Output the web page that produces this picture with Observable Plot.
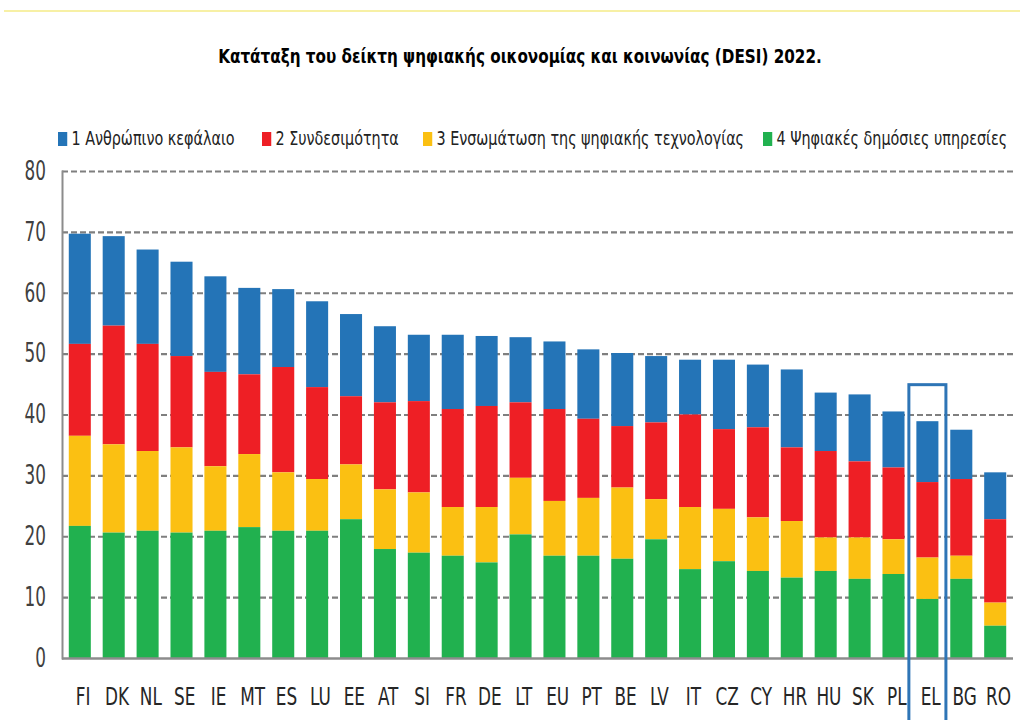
<!DOCTYPE html>
<html><head><meta charset="utf-8">
<script src="https://cdn.jsdelivr.net/npm/d3@7"></script>
<script src="https://cdn.jsdelivr.net/npm/@observablehq/plot@0.6"></script>
<style>
body{margin:0;background:#fff;}
#wrap{position:relative;width:1020px;height:720px;overflow:hidden;font-family:"DejaVu Sans Condensed","Liberation Sans Narrow",sans-serif;}
#topline{position:absolute;left:4px;right:0;top:10px;height:2px;background:#f7f0a5;}
#title{position:absolute;left:0;width:1040px;top:45px;text-align:center;font-weight:bold;font-size:19px;color:#000;transform:scaleX(0.89);transform-origin:520px 0;white-space:nowrap;}
.leg{position:absolute;top:127px;font-size:19px;color:#222;white-space:nowrap;transform:scaleX(0.84);transform-origin:0 0;}
.leg .sw{display:inline-block;width:11px;height:14px;margin-right:5px;vertical-align:-1px;}
#chart{position:absolute;left:0;top:0;}
</style></head>
<body>
<div id="wrap">
  <div id="topline"></div>
  <div id="title">Κατάταξη του δείκτη ψηφιακής οικονομίας και κοινωνίας (DESI) 2022.</div>
  <div id="legend"></div>
  <div id="chart"></div>
</div>
<script>
const countries = ["FI","DK","NL","SE","IE","MT","ES","LU","EE","AT","SI","FR","DE","LT","EU","PT","BE","LV","IT","CZ","CY","HR","HU","SK","PL","EL","BG","RO"];
const seriesNames = ["1 Ανθρώπινο κεφάλαιο","2 Συνδεσιμότητα","3 Ενσωμάτωση της ψηφιακής τεχνολογίας","4 Ψηφιακές δημόσιες υπηρεσίες"];
const seriesColors = ["#2474b7","#ee1f25","#fbc012","#21b14f"];
const humanCapital = [18.1,14.7,15.5,15.5,15.7,14.2,12.8,14.1,13.5,12.5,10.9,12.2,11.5,10.7,11.1,11.4,12.0,10.9,9.0,11.4,10.3,12.8,9.6,11.0,9.2,10.0,8.1,7.7];
const connectivity = [15.1,19.5,17.6,15.0,15.5,13.1,17.3,15.1,11.2,14.3,15.0,16.1,16.6,12.4,15.1,13.0,10.1,12.6,15.2,13.1,14.8,12.1,14.2,12.5,11.8,12.4,12.6,13.7];
const integration = [14.8,14.5,13.1,14.0,10.6,12.0,9.6,8.5,9.0,9.8,9.9,8.0,9.1,9.3,9.0,9.5,11.7,6.6,10.2,8.6,8.8,9.3,5.5,6.8,5.7,6.8,3.8,3.8];
const publicServices = [21.7,20.6,20.9,20.6,20.9,21.5,20.9,20.9,22.8,17.9,17.3,16.8,15.7,20.3,16.8,16.8,16.3,19.5,14.6,15.9,14.3,13.2,14.3,13.0,13.8,9.7,13.0,5.3];
const yTicks = [0,10,20,30,40,50,60,70,80];
const highlightCountry = "EL";
const highlightTop = 44.9;
const highlightBottom = -12;

const seriesValues = [humanCapital, connectivity, integration, publicServices];
const rows = [];
countries.forEach((c, i) => {
  seriesValues.forEach((vals, s) => rows.push({country: c, series: seriesNames[s], value: vals[i]}));
});
const stackOrder = [seriesNames[3], seriesNames[2], seriesNames[1], seriesNames[0]];

// legend
const legendX = [58, 262, 423, 763];
const legend = document.getElementById("legend");
seriesNames.forEach((n, i) => {
  const d = document.createElement("div");
  d.className = "leg";
  d.style.left = legendX[i] + "px";
  d.innerHTML = `<span class="sw" style="background:${seriesColors[i]}"></span>${n}`;
  legend.appendChild(d);
});

const font = '"DejaVu Sans Condensed","Liberation Sans Narrow",sans-serif';
const mLeft = 62, yPad = 13;
const chart = Plot.plot({
  width: 1020, height: 720,
  marginTop: 171, marginBottom: 62, marginLeft: mLeft, marginRight: 7,
  style: {background: "transparent", fontFamily: font, overflow: "visible"},
  x: {domain: countries, paddingInner: 0.35, paddingOuter: 0.2, round: false, label: null},
  y: {domain: [0, 80], label: null},
  color: {domain: seriesNames, range: seriesColors},
  marks: [
    Plot.gridY(yTicks.filter(d => d > 0), {stroke: "#7f7f7f", strokeOpacity: 1, strokeWidth: 2.2, strokeDasharray: "6,3"}),
    Plot.barY(rows, {x: "country", y: "value", fill: "series", order: stackOrder}),
    Plot.ruleY([0], {stroke: "#8c8c8c", strokeWidth: 2.5}),
    Plot.frame({anchor: "left", stroke: "#8c8c8c", strokeWidth: 2}),
    Plot.axisY(yTicks, {tickSize: 0, tickPadding: yPad, fontSize: 26, fill: "#404040"}),
    Plot.axisX({tickSize: 0, tickPadding: 29, fontSize: 25, fill: "#262626"}),
    Plot.barY([{country: highlightCountry, y1: highlightBottom, y2: highlightTop}],
      {x: "country", y1: "y1", y2: "y2", fill: "none", stroke: "#2e75b6", strokeWidth: 3, insetLeft: -7.5, insetRight: -7.5})
  ]
});
// narrow the axis glyphs horizontally (about their anchor) to mimic the condensed reference font
function wrapScale(t, cx, sx) {
  const g = document.createElementNS("http://www.w3.org/2000/svg", "g");
  g.setAttribute("transform", `translate(${cx},0) scale(${sx},1) translate(${-cx},0)`);
  t.parentNode.insertBefore(g, t);
  g.appendChild(t);
}
const xs = chart.scale("x");
chart.querySelectorAll('g[aria-label="x-axis tick label"] text').forEach(t => {
  const c = t.textContent.trim();
  wrapScale(t, xs.apply(c) + xs.bandwidth / 2, 0.75);
});
chart.querySelectorAll('g[aria-label="y-axis tick label"] text').forEach(t => wrapScale(t, mLeft - yPad, 0.72));
document.getElementById("chart").appendChild(chart);
</script>
</body></html>
